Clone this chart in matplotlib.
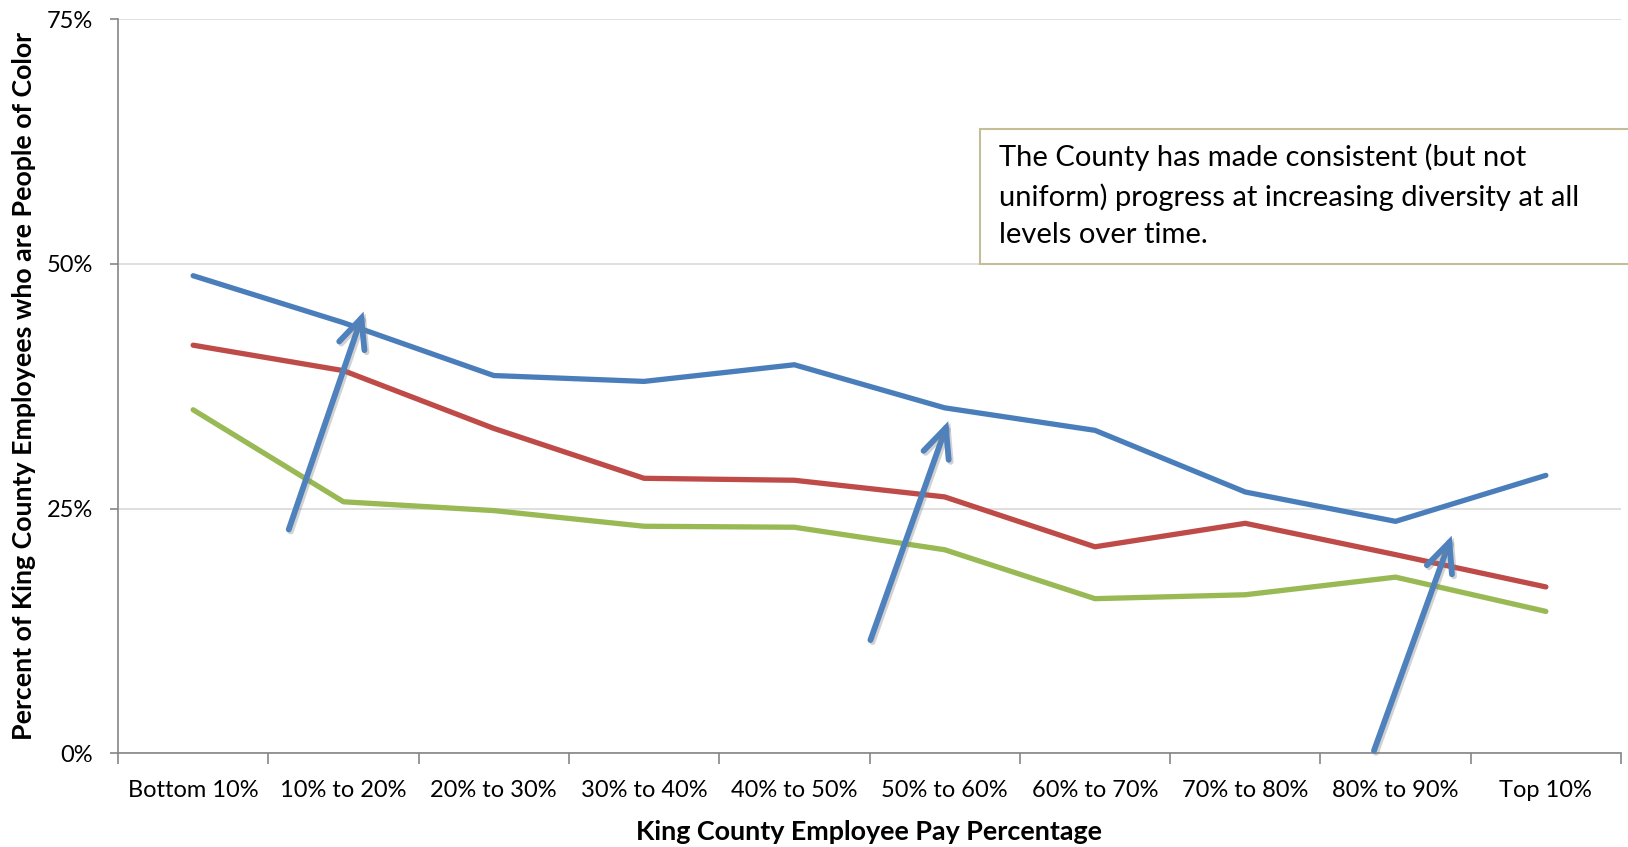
import numpy as np
import matplotlib
matplotlib.use("Agg")
import matplotlib.pyplot as plt
from matplotlib.patches import FancyArrowPatch, Rectangle
import matplotlib.patheffects as pe

plt.rcParams['font.family'] = ['Lato', 'DejaVu Sans']

# pay brackets along the x axis
categories = ["Bottom 10%", "10% to 20%", "20% to 30%", "30% to 40%", "40% to 50%",
              "50% to 60%", "60% to 70%", "70% to 80%", "80% to 90%", "Top 10%"]

# percent of employees who are people of color, three snapshots
blue_vals = [48.8, 44.0, 38.6, 38.0, 39.7, 35.3, 33.0, 26.7, 23.7, 28.4]
red_vals = [41.7, 39.1, 33.2, 28.1, 27.9, 26.2, 21.1, 23.5, 20.3, 17.0]
green_vals = [35.1, 25.7, 24.8, 23.2, 23.1, 20.8, 15.8, 16.2, 18.0, 14.5]

# trend arrows: (tail x, tail y) -> (head x, head y) in data units
arrow_tails = [(0.63, 22.6), (4.50, 11.3), (7.85, 0.0)]
arrow_heads = [(1.14, 45.4), (5.03, 34.2), (8.38, 22.5)]

yticks = [0, 25, 50, 75]
note = ("The County has made consistent (but not\n"
        "uniform) progress at increasing diversity at all\n"
        "levels over time.")

W, H = 1628, 847
fig = plt.figure(figsize=(W / 100, H / 100), dpi=100)
ax = fig.add_axes([118 / W, 1 - 753.3 / H, 1503 / W, (753.3 - 19.3) / H])

x = np.arange(len(categories))
ax.plot(x, blue_vals, color="#4A7EBB", lw=3.8, solid_capstyle="round", zorder=3)
ax.plot(x, red_vals, color="#BE4B48", lw=3.8, solid_capstyle="round", zorder=3)
ax.plot(x, green_vals, color="#98B954", lw=3.8, solid_capstyle="round", zorder=3)

shadow = [pe.SimpleLineShadow(offset=(1.5, -1.5), shadow_color="gray", alpha=0.35), pe.Normal()]
for t, h in zip(arrow_tails, arrow_heads):
    arr = FancyArrowPatch(t, h, arrowstyle="->,head_length=0.7,head_width=0.32",
                          mutation_scale=30, color="#4F81BD", lw=4.2,
                          capstyle="round", joinstyle="miter", zorder=4, clip_on=False)
    arr.set_path_effects(shadow)
    ax.add_patch(arr)

ax.set_xlim(-0.5, len(categories) - 0.5)
ax.set_ylim(0, 75)
ax.set_yticks(yticks)
ax.set_yticklabels([f"{v}%" for v in yticks])
ax.grid(axis="y", color="#D9D9D9", lw=1.2, zorder=0)
ax.set_axisbelow(True)

ax.set_xticks(np.arange(len(categories) + 1) - 0.5)
ax.set_xticklabels([])
ax.set_xticks(x, minor=True)
ax.set_xticklabels(categories, minor=True)
ax.tick_params(axis="x", which="major", length=8, width=1.2, color="#868686", direction="out")
ax.tick_params(axis="x", which="minor", length=0, pad=19, labelsize=17)
ax.tick_params(axis="y", length=6, width=1.2, color="#868686", pad=12, labelsize=17)

for s in ["top", "right"]:
    ax.spines[s].set_visible(False)
for s in ["left", "bottom"]:
    ax.spines[s].set_color("#868686")
    ax.spines[s].set_linewidth(1.2)

ax.set_xlabel("King County Employee Pay Percentage", fontsize=19.4, fontweight="bold", labelpad=14)
ax.set_ylabel("Percent of King County Employees who are People of Color", fontsize=19.3,
              fontweight="bold", labelpad=8)

# note box running off the right edge
fig.patches.append(Rectangle((980 / W, 1 - 264 / H), 700 / W, 135 / H, transform=fig.transFigure,
                             facecolor="white", edgecolor="#C4BD97", lw=1.5, zorder=5))
fig.text(999 / W, 1 - 143 / H, note, fontsize=21, va="top", ha="left", linespacing=1.55, zorder=6)

fig.savefig("out.png", dpi=100)
